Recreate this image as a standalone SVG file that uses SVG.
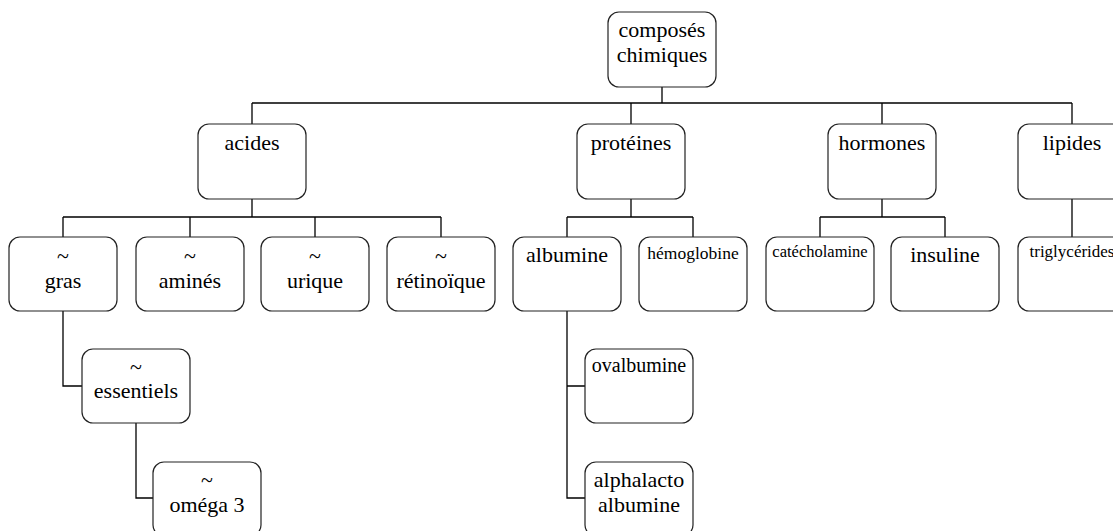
<svg xmlns="http://www.w3.org/2000/svg" width="1113" height="531" viewBox="0 0 1113 531">
<style>
.box{fill:#fff;stroke:#222;stroke-width:1.2}
.t{font-family:'Liberation Serif','Times New Roman',serif;font-size:22px;fill:#000;text-anchor:middle}
.conn path{fill:none;stroke:#000;stroke-width:1.3}
</style>
<rect width="1113" height="531" fill="#fff"/>
<g class="conn" id="connectors">
<path d="M662 87V103M252 103H1072M252 103V124M631 103V124M882 103V124M1072 103V124"/>
<path d="M252 199V217M63 217H441M63 217V237M190 217V237M315 217V237M441 217V237"/>
<path d="M631 199V217M567 217H693M567 217V237M693 217V237"/>
<path d="M882 199V217M820 217H945M820 217V237M945 217V237"/>
<path d="M1072 199V237"/>
<path d="M63 311V386H82"/>
<path d="M136 423V498H153"/>
<path d="M567 311V498H585M567 386H585"/>
</g>
<g id="n-root"><rect class="box" x="608" y="12" width="108" height="75" rx="11"/><text class="t" x="662" y="37">composés</text><text class="t" x="662" y="62">chimiques</text></g>
<g id="n-acides"><rect class="box" x="198" y="124" width="108" height="75" rx="11"/><text class="t" x="252" y="150">acides</text></g>
<g id="n-proteines"><rect class="box" x="577" y="124" width="108" height="75" rx="11"/><text class="t" x="631" y="150">protéines</text></g>
<g id="n-hormones"><rect class="box" x="828" y="124" width="108" height="75" rx="11"/><text class="t" x="882" y="150">hormones</text></g>
<g id="n-lipides"><rect class="box" x="1018" y="124" width="108" height="75" rx="11"/><text class="t" x="1072" y="150">lipides</text></g>
<g id="n-gras"><rect class="box" x="9" y="237" width="108" height="74" rx="11"/><text class="t" x="63" y="263">~</text><text class="t" x="63" y="288">gras</text></g>
<g id="n-amines"><rect class="box" x="136" y="237" width="108" height="74" rx="11"/><text class="t" x="190" y="263">~</text><text class="t" x="190" y="288">aminés</text></g>
<g id="n-urique"><rect class="box" x="261" y="237" width="108" height="74" rx="11"/><text class="t" x="315" y="263">~</text><text class="t" x="315" y="288">urique</text></g>
<g id="n-retinoique"><rect class="box" x="387" y="237" width="108" height="74" rx="11"/><text class="t" x="441" y="263">~</text><text class="t" x="441" y="288">rétinoïque</text></g>
<g id="n-albumine"><rect class="box" x="513" y="237" width="108" height="74" rx="11"/><text class="t" x="567" y="262">albumine</text></g>
<g id="n-hemoglobine"><rect class="box" x="639" y="237" width="108" height="74" rx="11"/><text class="t" x="693" y="259" style="font-size:17.5px">hémoglobine</text></g>
<g id="n-catecholamine"><rect class="box" x="766" y="237" width="108" height="74" rx="11"/><text class="t" x="820" y="257" style="font-size:16.5px">catécholamine</text></g>
<g id="n-insuline"><rect class="box" x="891" y="237" width="108" height="74" rx="11"/><text class="t" x="945" y="262">insuline</text></g>
<g id="n-triglycerides"><rect class="box" x="1018" y="237" width="108" height="74" rx="11"/><text class="t" x="1072" y="257" style="font-size:17px">triglycérides</text></g>
<g id="n-essentiels"><rect class="box" x="82" y="349" width="108" height="74" rx="11"/><text class="t" x="136" y="374">~</text><text class="t" x="136" y="398">essentiels</text></g>
<g id="n-ovalbumine"><rect class="box" x="585" y="349" width="108" height="74" rx="11"/><text class="t" x="639" y="372" style="font-size:20px">ovalbumine</text></g>
<g id="n-omega"><rect class="box" x="153" y="462" width="108" height="74" rx="11"/><text class="t" x="207" y="487">~</text><text class="t" x="207" y="512">oméga 3</text></g>
<g id="n-alphalacto"><rect class="box" x="585" y="462" width="108" height="74" rx="11"/><text class="t" x="639" y="487">alphalacto</text><text class="t" x="639" y="512">albumine</text></g>
</svg>
